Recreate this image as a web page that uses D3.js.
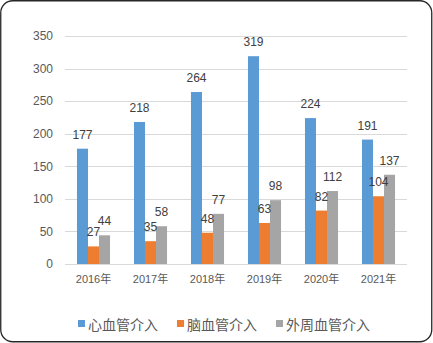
<!DOCTYPE html>
<html><head><meta charset="utf-8">
<script src="https://cdn.jsdelivr.net/npm/d3@7/dist/d3.min.js"></script>
<style>body{margin:0;background:#fff}svg{display:block}text{font-family:"Liberation Sans","Noto Sans CJK SC",sans-serif}</style>
</head><body>
<svg id="c" width="433" height="343"></svg>
<script>
const categories = ["2016年","2017年","2018年","2019年","2020年","2021年"];
const seriesNames = ["心血管介入","脑血管介入","外周血管介入"];
const cardio = [177,218,264,319,224,191];
const cerebro = [27,35,48,63,82,104];
const peripheral = [44,58,77,98,112,137];
const yTicks = [0,50,100,150,200,250,300,350];
const colors = ["#5B9BD5","#ED7D31","#A5A5A5"];
const series = [cardio, cerebro, peripheral];

const svg = d3.select("#c");
svg.append("rect").attr("x",0.75).attr("y",0.75).attr("width",431).attr("height",341)
  .attr("rx",12).attr("ry",12).attr("fill","#fff").attr("stroke","#262626").attr("stroke-width",1.3);

const x0 = d3.scaleBand().domain(categories).range([65,407]).paddingInner(0.42).paddingOuter(0.21);
const x1 = d3.scaleBand().domain(d3.range(3)).range([0,x0.bandwidth()]);
const y = d3.scaleLinear().domain([0,350]).range([264,36]);

const g = svg.append("g");
// gridlines
g.selectAll("line.grid").data(yTicks).join("line")
  .attr("x1",65).attr("x2",407).attr("y1",d=>Math.round(y(d))+0.5).attr("y2",d=>Math.round(y(d))+0.5)
  .attr("stroke","#D9D9D9").attr("stroke-width",1);

// y axis labels
const yAxis = d3.axisLeft(y).tickValues(yTicks).tickSize(0).tickPadding(0);
const ya = svg.append("g").attr("transform","translate(53,0)").call(yAxis);
ya.select(".domain").remove();
ya.selectAll("text").attr("fill","#595959").attr("font-size","12px")
  .attr("font-family",'"Liberation Sans","Noto Sans CJK SC",sans-serif');

// x axis labels
const xAxis = d3.axisBottom(x0).tickSize(0).tickPadding(0);
const xa = svg.append("g").attr("transform","translate(0,275)").call(xAxis);
xa.select(".domain").remove();
xa.selectAll("text").attr("fill","#595959").attr("font-size","11px")
  .attr("font-family",'"Liberation Sans","Noto Sans CJK SC",sans-serif');

// bars
series.forEach((vals,si)=>{
  g.selectAll("rect.s"+si).data(vals).join("rect")
    .attr("x",(d,i)=>x0(categories[i])+x1(si))
    .attr("width",x1.bandwidth())
    .attr("y",d=>y(d)).attr("height",d=>y(0)-y(d))
    .attr("fill",colors[si]);
});
series.forEach((vals,si)=>{
  g.selectAll("text.l"+si).data(vals).join("text")
    .attr("x",(d,i)=>x0(categories[i])+x1(si)+x1.bandwidth()/2)
    .attr("y",d=>y(d)-10)
    .attr("text-anchor","middle").attr("font-size","12px").attr("fill","#404040")
    .text(d=>d);
});

// legend
const legX = [78,177,276];
seriesNames.forEach((n,i)=>{
  svg.append("rect").attr("x",legX[i]).attr("y",320).attr("width",7).attr("height",7).attr("fill",colors[i]);
  svg.append("text").attr("x",legX[i]+10).attr("y",329.5).attr("font-size","14px").attr("fill","#595959")
    .attr("font-family",'"Noto Sans CJK SC",sans-serif').text(n);
});
</script>
</body></html>
